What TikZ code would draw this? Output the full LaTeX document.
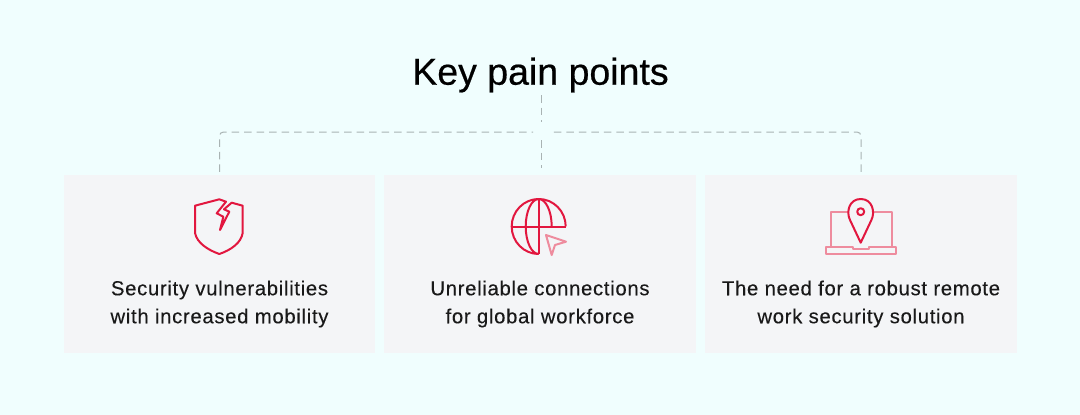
\documentclass[tikz,border=0pt]{standalone}
\usepackage{fontspec}
\setmainfont{Liberation Sans}
\newfontfamily\cardfont[LetterSpace=3.4,FakeBold=0.2]{Liberation Sans}
\newfontfamily\titlefont[FakeBold=0.5]{Liberation Sans}
\definecolor{pagebg}{HTML}{F0FEFE}
\definecolor{cardbg}{HTML}{F4F5F7}
\definecolor{iconred}{HTML}{E2173F}
\definecolor{iconpink}{HTML}{EE8C9E}
\definecolor{linkgray}{HTML}{A9B3B3}
\tikzset{
  card/.style={fill=cardbg, minimum height=178pt, inner sep=0pt},
  cardtext/.style={align=center, font=\cardfont\fontsize{20.3}{28}\selectfont, text=black!90},
  link/.style={draw=linkgray, line width=1pt, dash pattern=on 7.5pt off 5pt},
  redline/.style={draw=iconred, line width=2pt, line join=round},
  pinkline/.style={draw=iconpink, line width=2pt, line join=round},
}
\begin{document}
\begin{tikzpicture}[x=1pt, y=-1pt]
\useasboundingbox (0,0) rectangle (1080,415);
\fill [pagebg] (0,0) rectangle (1080,415);

% --- title ---
\node (title) [font=\titlefont\fontsize{37.5}{40}\selectfont, text=black, inner sep=0pt, minimum height=40pt] at (540.5,75) {Key pain points};

    % --- cards and their texts ---
    \foreach \name/\x/\w/\txt in {
        cardsecurity/219.5/311/{Security vulnerabilities\\with increased mobility},
        cardglobal/540/312/{Unreliable connections\\for global workforce},
        cardremote/861/312/{The need for a robust remote\\work security solution}} {
        \node (\name) [card, minimum width=\w pt] at (\x,264) {};
        \node (\name text) [cardtext] at (\x,304) {\txt};
    }

    % --- dashed connectors ---
    \coordinate (hubtop) at (541,122);
    \coordinate (hubbottom) at (541,140);
    \coordinate (hubleft) at (533,132);
    \coordinate (hubright) at (549,132);
    \draw [link] (title.south -| hubtop) -- (hubtop);
    \draw [link, shorten >=7pt] (hubbottom) -- (hubbottom |- cardglobal.north);
    \draw [link, rounded corners=4pt, shorten <=3pt] (cardsecurity.north) |- (hubleft);
    \draw [link, rounded corners=4pt, shorten <=3pt] (cardremote.north) |- (hubright);

    % --- shield icon ---
    \draw [redline] (219.3,199.3) -- (195,205.7) -- (195,233) .. controls (197,243) and (208,250) .. (219.3,254)
        .. controls (231,250) and (241,243) .. (242.7,233) -- (242.7,205.7) -- (231.7,202.7)
        -- (224,209.3) -- (229.3,211.7) -- (220,230) -- (223.3,216.7) -- (216.7,213.3) -- (226,201.7) -- cycle;

    % --- globe icon ---
    \draw [redline] (538.7,254) arc [start angle=90, end angle=360, x radius=27, y radius=27.5];
    \draw [redline] (511.7,226.5) -- (565.7,226.5);
    \draw [redline] (538.7,199) -- (538.7,254);
    \draw [redline] (538.7,254) arc [start angle=90, end angle=270, x radius=13, y radius=27.5];
    \draw [redline] (538.7,199) arc [start angle=270, end angle=360, x radius=13, y radius=27.5];
    \draw [pinkline] (546,235) -- (566,241.7) -- (555,245) -- (551.7,255) -- cycle;

    % --- laptop icon ---
    \draw [pinkline] (831,246.7) -- (831,211.7) -- (891.7,211.7) -- (891.7,246.7);
    \draw [pinkline] (826,246.7) -- (853,246.7) -- (853,249.3) -- (869,249.3) -- (869,246.7) -- (896,246.7)
        -- (896,254.3) -- (826,254.3) -- cycle;
    \draw [redline, fill=cardbg] (860.7,242.7) -- (850,220) .. controls (846,212) and (849,199) .. (860.7,199)
        .. controls (872.4,199) and (875.4,212) .. (871.4,220) -- cycle;
    \draw [redline] (860.7,211.7) circle [radius=3.5];

\end{tikzpicture}
\end{document}
